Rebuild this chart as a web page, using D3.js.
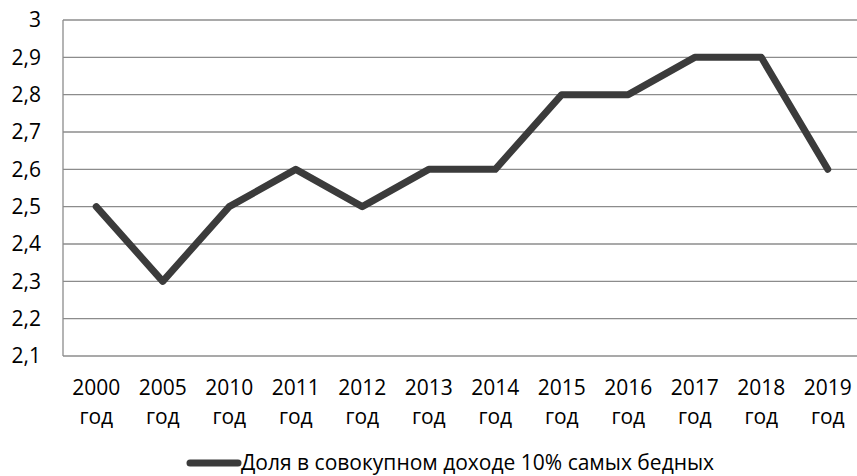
<!DOCTYPE html>
<html><head><meta charset="utf-8">
<script src="https://cdn.jsdelivr.net/npm/d3@7"></script>
<style>body{margin:0;background:#fff}svg{display:block}text{font-family:"Open Sans",sans-serif;fill:#000}</style>
</head><body><svg id="c" width="857" height="476"></svg>
<script>
const years = ["2000","2005","2010","2011","2012","2013","2014","2015","2016","2017","2018","2019"];
const values = [2.5,2.3,2.5,2.6,2.5,2.6,2.6,2.8,2.8,2.9,2.9,2.6];
const yTicks = [2.1,2.2,2.3,2.4,2.5,2.6,2.7,2.8,2.9,3];
const seriesName = "Доля в совокупном доходе 10% самых бедных";

const svg = d3.select("#c");
const m = {l:63, t:20, r:861, b:356};
const fs = 21;
const x = d3.scaleBand().domain(years).range([m.l, m.r]);
const y = d3.scaleLinear().domain([2.1,3]).range([m.b, m.t]);
const fmt = v => (v===3 ? "3" : d3.format(".1f")(v).replace(".", ","));

const g = svg.append("g");
g.selectAll("line.grid").data(yTicks).join("line")
  .attr("x1", m.l).attr("x2", m.r)
  .attr("y1", d=>y(d)).attr("y2", d=>y(d))
  .attr("stroke", "#8c8c8c").attr("stroke-width", 1.3);
g.append("line").attr("x1", m.l).attr("x2", m.l).attr("y1", m.t).attr("y2", m.b)
  .attr("stroke", "#8c8c8c").attr("stroke-width", 1.3);

g.selectAll("text.yl").data(yTicks).join("text")
  .attr("x", 41).attr("y", d=>y(d)).attr("dy","0.35em")
  .attr("text-anchor","end").attr("font-size", fs).text(fmt);

const xl = g.selectAll("g.xl").data(years).join("g")
  .attr("transform", d=>`translate(${x(d)+x.bandwidth()/2},0)`);
xl.append("text").attr("y", 395).attr("text-anchor","middle").attr("font-size",fs).text(d=>d);
xl.append("text").attr("y", 424).attr("text-anchor","middle").attr("font-size",fs).text("год");

const line = d3.line().x((d,i)=>x(years[i])+x.bandwidth()/2).y(d=>y(d));
g.append("path").datum(values).attr("d", line).attr("fill","none")
  .attr("stroke","#3b3b3b").attr("stroke-width",7).attr("stroke-linejoin","round").attr("stroke-linecap","round");

g.append("line").attr("x1",190).attr("x2",238).attr("y1",463).attr("y2",463)
  .attr("stroke","#3b3b3b").attr("stroke-width",7).attr("stroke-linecap","round");
g.append("text").attr("x",241).attr("y",463).attr("dy","0.35em").attr("font-size",fs).text(seriesName);
</script></body></html>
